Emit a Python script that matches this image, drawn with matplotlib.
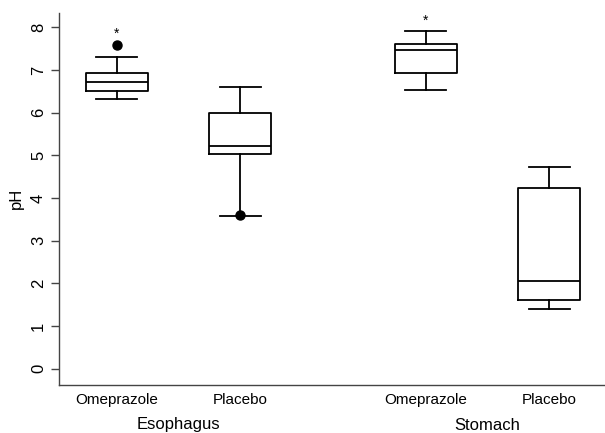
import numpy as np
import matplotlib
matplotlib.use("Agg")
import matplotlib.pyplot as plt
import matplotlib.transforms as mtransforms

plt.rcParams['font.family'] = ['Liberation Sans', 'DejaVu Sans']

# box summaries
groups = ["Esophagus", "Stomach"]
group_pos = [1.5, 4.0]
treatments = ["Omeprazole", "Placebo", "Omeprazole", "Placebo"]
positions = [1.0, 2.0, 3.5, 4.5]
whislo = [6.31, 3.58, 6.54, 1.39]
q1 = [6.50, 5.04, 6.92, 1.62]
med = [6.72, 5.22, 7.46, 2.05]
q3 = [6.93, 5.99, 7.61, 4.23]
whishi = [7.30, 6.60, 7.92, 4.73]
fliers = [[7.58], [3.60], [], []]
star_pos = [1.0, 3.5]
star_y = [7.84, 8.14]

stats = []
for i in range(len(positions)):
    stats.append(dict(whislo=whislo[i], q1=q1[i], med=med[i], q3=q3[i],
                      whishi=whishi[i], fliers=fliers[i]))

fig = plt.figure(figsize=(6.05, 4.33), dpi=100)
ax = fig.add_axes([0.0967, 0.1115, 0.9033, 0.8592])

lw = 1.3
line = dict(color="black", linewidth=lw)
ax.bxp(stats, positions=positions, widths=0.5, showfliers=True,
       boxprops=line, whiskerprops=line, capprops=line, medianprops=line,
       flierprops=dict(marker="o", markerfacecolor="black", markeredgecolor="black",
                       markersize=6.5),
       capwidths=0.33, manage_ticks=False)

for x, y in zip(star_pos, star_y):
    ax.text(x, y, "*", ha="center", va="center", fontsize=10)

ax.set_xlim(0.53, 4.95)
ax.set_ylim(-0.375, 8.34)
ax.set_yticks(range(0, 9))
ax.set_yticklabels([str(v) for v in range(0, 9)], rotation=90, va="center", fontsize=12)
ax.set_xticks(positions)
ax.set_xticklabels(treatments, fontsize=11)
ax.tick_params(axis="x", length=0, pad=6)
ax.tick_params(axis="y", length=6, width=1, color="#444444", pad=3)
ax.set_ylabel("pH", fontsize=12, labelpad=5)

for s in ["top", "right"]:
    ax.spines[s].set_visible(False)
for s in ["left", "bottom"]:
    ax.spines[s].set_color("#444444")
    ax.spines[s].set_linewidth(1.0)

# group labels below the treatment labels
trans = mtransforms.blended_transform_factory(ax.transData, fig.transFigure)
for g, x in zip(groups, group_pos):
    ax.text(x, 1 - 425 / 433, g, transform=trans, ha="center", va="center", fontsize=12)

fig.savefig("out.png", dpi=100)
